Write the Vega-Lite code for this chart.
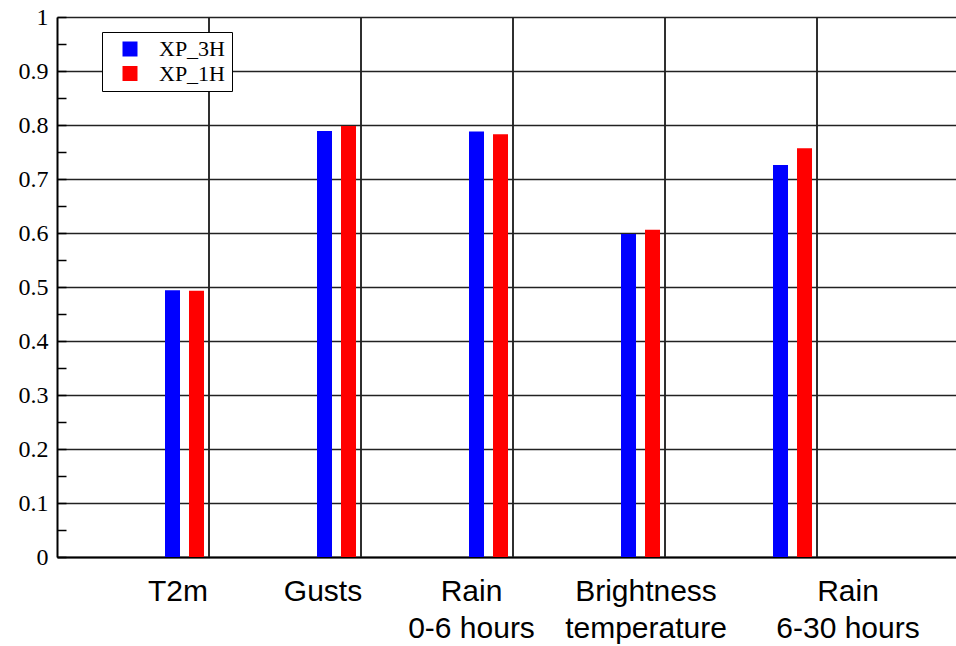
{
  "$schema": "https://vega.github.io/schema/vega-lite/v6.json",
  "autosize": {"type": "none"},
  "padding": {"left": 57, "top": 17, "right": 0, "bottom": 89},
  "width": 899,
  "height": 540,
  "background": "white",
  "config": {"view": {"stroke": null}},
  "data": {
    "values": [
      {"variable": "T2m", "experiment": "XP_3H", "score": 0.494},
      {"variable": "T2m", "experiment": "XP_1H", "score": 0.493},
      {"variable": "Gusts", "experiment": "XP_3H", "score": 0.789},
      {"variable": "Gusts", "experiment": "XP_1H", "score": 0.798},
      {"variable": "Rain\n0-6 hours", "experiment": "XP_3H", "score": 0.788},
      {"variable": "Rain\n0-6 hours", "experiment": "XP_1H", "score": 0.783},
      {"variable": "Brightness\ntemperature", "experiment": "XP_3H", "score": 0.598},
      {"variable": "Brightness\ntemperature", "experiment": "XP_1H", "score": 0.606},
      {"variable": "Rain\n6-30 hours", "experiment": "XP_3H", "score": 0.726},
      {"variable": "Rain\n6-30 hours", "experiment": "XP_1H", "score": 0.757}
    ]
  },
  "layer": [
    {
      "mark": {"type": "rule", "color": "#222222", "strokeWidth": 1.5},
      "encoding": {
        "x": {
          "field": "variable",
          "type": "nominal",
          "sort": null,
          "bandPosition": 1.128,
          "scale": {"paddingInner": 0.7434, "paddingOuter": 0.8289, "align": 0.4286},
          "axis": {
            "title": null,
            "ticks": false,
            "tickSize": 0,
            "labelPadding": 19,
            "labelBaseline": "top",
            "labelFont": "Liberation Sans",
            "labelFontSize": 30,
            "labelColor": "black",
            "labelLineHeight": 37,
            "labelAngle": 0,
            "labelLimit": 0,
            "labelExpr": "split(datum.label, '\\n')",
            "labelOffset": {
              "condition": [
                {"test": "datum.value == 'T2m'", "value": -6.5},
                {"test": "datum.value == 'Gusts'", "value": -13.5},
                {"test": "datum.value == 'Rain\\n0-6 hours'", "value": -17},
                {"test": "datum.value == 'Brightness\\ntemperature'", "value": 5.5},
                {"test": "datum.value == 'Rain\\n6-30 hours'", "value": 55.5}
              ],
              "value": 0
            },
            "domainColor": "black",
            "domainWidth": 2,
            "grid": false
          }
        }
      }
    },
    {
      "mark": {"type": "bar"},
      "encoding": {
        "x": {
          "field": "variable",
          "type": "nominal",
          "sort": null,
          "scale": {"paddingInner": 0.7434, "paddingOuter": 0.8289, "align": 0.4286},
          "axis": {
            "title": null,
            "ticks": false,
            "tickSize": 0,
            "labelPadding": 19,
            "labelBaseline": "top",
            "labelFont": "Liberation Sans",
            "labelFontSize": 30,
            "labelColor": "black",
            "labelLineHeight": 37,
            "labelAngle": 0,
            "labelLimit": 0,
            "labelExpr": "split(datum.label, '\\n')",
            "labelOffset": {
              "condition": [
                {"test": "datum.value == 'T2m'", "value": -6.5},
                {"test": "datum.value == 'Gusts'", "value": -13.5},
                {"test": "datum.value == 'Rain\\n0-6 hours'", "value": -17},
                {"test": "datum.value == 'Brightness\\ntemperature'", "value": 5.5},
                {"test": "datum.value == 'Rain\\n6-30 hours'", "value": 55.5}
              ],
              "value": 0
            },
            "domainColor": "black",
            "domainWidth": 2,
            "grid": false
          }
        },
        "xOffset": {
          "field": "experiment",
          "type": "nominal",
          "sort": ["XP_3H", "XP_1H"],
          "scale": {"paddingInner": 0.375, "paddingOuter": 0}
        },
        "y": {
          "field": "score",
          "type": "quantitative",
          "scale": {"domain": [0, 1], "nice": false, "zero": true},
          "axis": {
            "title": null,
            "values": [0, 0.05, 0.1, 0.15, 0.2, 0.25, 0.3, 0.35, 0.4, 0.45, 0.5, 0.55, 0.6, 0.65, 0.7, 0.75, 0.8, 0.85, 0.9, 0.95, 1],
            "labelExpr": "round(datum.value * 100) % 10 == 0 ? '' + datum.value : ''",
            "labelOverlap": false,
            "labelFont": "Liberation Serif",
            "labelFontSize": 24,
            "labelColor": "black",
            "labelPadding": 18,
            "tickSize": -9,
            "tickColor": "black",
            "tickWidth": 1.5,
            "grid": true,
            "gridColor": "#222222",
            "gridWidth": 1.5,
            "gridOpacity": {
              "condition": {"test": "round(datum.value * 100) % 10 != 0", "value": 0},
              "value": 1
            },
            "domainColor": "black",
            "domainWidth": 2
          }
        },
        "color": {
          "field": "experiment",
          "type": "nominal",
          "sort": ["XP_3H", "XP_1H"],
          "scale": {"domain": ["XP_3H", "XP_1H"], "range": ["#0000ff", "#ff0000"]},
          "legend": {
            "orient": "none",
            "legendX": 45,
            "legendY": 15,
            "title": null,
            "symbolType": "square",
            "symbolSize": 225,
            "symbolStrokeWidth": 0,
            "symbolOpacity": 1,
            "labelFont": "Liberation Serif",
            "labelFontSize": 22,
            "labelColor": "black",
            "fillColor": "white",
            "strokeColor": "black",
            "padding": 6,
            "rowPadding": 2.5,
            "symbolOffset": 11,
            "labelOffset": 18
          }
        }
      }
    }
  ]
}
